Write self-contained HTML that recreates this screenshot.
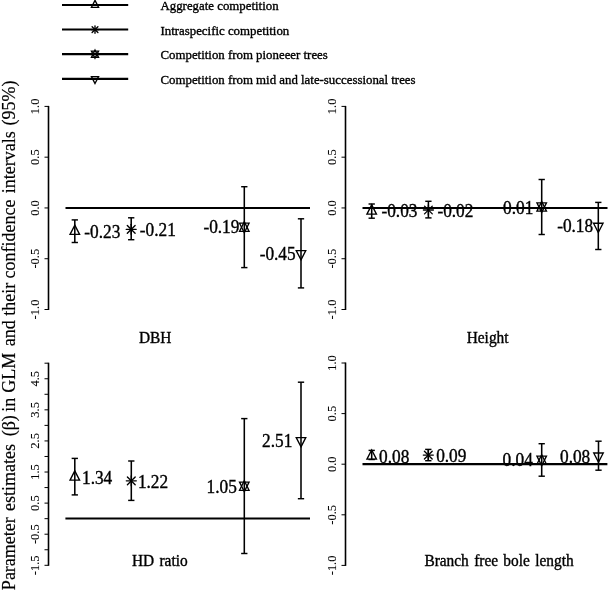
<!DOCTYPE html>
<html><head><meta charset="utf-8"><style>
html,body{margin:0;padding:0;background:#fff;width:609px;height:591px;overflow:hidden}
svg{display:block;will-change:transform}
text{font-family:"Liberation Serif", serif;fill:#000;stroke:#000;stroke-width:0.35px}
</style></head><body>
<svg width="609" height="591" viewBox="0 0 609 591">
<rect width="609" height="591" fill="#fff"/>
<line x1="62.00" y1="5.00" x2="128.20" y2="5.00" stroke="#000" stroke-width="2.1"/>
<polygon points="95.00,0.41 98.55,7.30 91.45,7.30" fill="none" stroke="#000" stroke-width="1.35"/>
<text x="160.50" y="9.70" font-size="12.85" text-anchor="start" >Aggregate competition</text>
<line x1="62.00" y1="29.55" x2="128.20" y2="29.55" stroke="#000" stroke-width="2.1"/>
<line x1="91.27" y1="29.55" x2="98.73" y2="29.55" stroke="#000" stroke-width="1.35" stroke-linecap="round"/>
<line x1="95.00" y1="25.82" x2="95.00" y2="33.28" stroke="#000" stroke-width="1.35" stroke-linecap="round"/>
<line x1="92.10" y1="26.65" x2="97.90" y2="32.45" stroke="#000" stroke-width="1.35" stroke-linecap="round"/>
<line x1="92.10" y1="32.45" x2="97.90" y2="26.65" stroke="#000" stroke-width="1.35" stroke-linecap="round"/>
<text x="160.50" y="34.60" font-size="12.85" text-anchor="start" >Intraspecific competition</text>
<line x1="62.00" y1="54.15" x2="128.20" y2="54.15" stroke="#000" stroke-width="2.1"/>
<polygon points="95.00,50.05 98.55,57.23 91.45,57.23" fill="none" stroke="#000" stroke-width="1.35"/>
<polygon points="95.00,58.25 98.55,51.07 91.45,51.07" fill="none" stroke="#000" stroke-width="1.35"/>
<text x="160.50" y="59.20" font-size="12.85" text-anchor="start" >Competition from pioneeer trees</text>
<line x1="62.00" y1="78.85" x2="128.20" y2="78.85" stroke="#000" stroke-width="2.1"/>
<polygon points="95.00,83.44 98.55,76.55 91.45,76.55" fill="none" stroke="#000" stroke-width="1.35"/>
<text x="160.50" y="83.60" font-size="12.85" text-anchor="start" >Competition from mid and late-successional trees</text>
<line x1="48.50" y1="105.90" x2="48.50" y2="310.00" stroke="#000" stroke-width="1.6"/>
<line x1="44.50" y1="106.40" x2="48.50" y2="106.40" stroke="#000" stroke-width="1.0"/>
<line x1="44.50" y1="157.18" x2="48.50" y2="157.18" stroke="#000" stroke-width="1.0"/>
<line x1="44.50" y1="207.95" x2="48.50" y2="207.95" stroke="#000" stroke-width="1.0"/>
<line x1="44.50" y1="258.73" x2="48.50" y2="258.73" stroke="#000" stroke-width="1.0"/>
<line x1="44.50" y1="309.50" x2="48.50" y2="309.50" stroke="#000" stroke-width="1.0"/>
<text x="0" y="0" font-size="12.5" text-anchor="middle" style="stroke-width:0.1px" transform="translate(39.20,106.40) rotate(-90) scale(1,1.05)">1.0</text>
<text x="0" y="0" font-size="12.5" text-anchor="middle" style="stroke-width:0.1px" transform="translate(39.20,157.18) rotate(-90) scale(1,1.05)">0.5</text>
<text x="0" y="0" font-size="12.5" text-anchor="middle" style="stroke-width:0.1px" transform="translate(39.20,207.95) rotate(-90) scale(1,1.05)">0.0</text>
<text x="0" y="0" font-size="12.5" text-anchor="middle" style="stroke-width:0.1px" transform="translate(39.20,258.73) rotate(-90) scale(1,1.05)">-0.5</text>
<text x="0" y="0" font-size="12.5" text-anchor="middle" style="stroke-width:0.1px" transform="translate(39.20,309.50) rotate(-90) scale(1,1.05)">-1.0</text>
<line x1="345.50" y1="105.90" x2="345.50" y2="310.00" stroke="#000" stroke-width="1.6"/>
<line x1="341.50" y1="106.40" x2="345.50" y2="106.40" stroke="#000" stroke-width="1.0"/>
<line x1="341.50" y1="157.18" x2="345.50" y2="157.18" stroke="#000" stroke-width="1.0"/>
<line x1="341.50" y1="207.95" x2="345.50" y2="207.95" stroke="#000" stroke-width="1.0"/>
<line x1="341.50" y1="258.73" x2="345.50" y2="258.73" stroke="#000" stroke-width="1.0"/>
<line x1="341.50" y1="309.50" x2="345.50" y2="309.50" stroke="#000" stroke-width="1.0"/>
<text x="0" y="0" font-size="12.5" text-anchor="middle" style="stroke-width:0.1px" transform="translate(336.30,106.40) rotate(-90) scale(1,1.05)">1.0</text>
<text x="0" y="0" font-size="12.5" text-anchor="middle" style="stroke-width:0.1px" transform="translate(336.30,157.18) rotate(-90) scale(1,1.05)">0.5</text>
<text x="0" y="0" font-size="12.5" text-anchor="middle" style="stroke-width:0.1px" transform="translate(336.30,207.95) rotate(-90) scale(1,1.05)">0.0</text>
<text x="0" y="0" font-size="12.5" text-anchor="middle" style="stroke-width:0.1px" transform="translate(336.30,258.73) rotate(-90) scale(1,1.05)">-0.5</text>
<text x="0" y="0" font-size="12.5" text-anchor="middle" style="stroke-width:0.1px" transform="translate(336.30,309.50) rotate(-90) scale(1,1.05)">-1.0</text>
<line x1="345.50" y1="362.50" x2="345.50" y2="565.90" stroke="#000" stroke-width="1.6"/>
<line x1="341.50" y1="363.00" x2="345.50" y2="363.00" stroke="#000" stroke-width="1.0"/>
<line x1="341.50" y1="413.60" x2="345.50" y2="413.60" stroke="#000" stroke-width="1.0"/>
<line x1="341.50" y1="464.20" x2="345.50" y2="464.20" stroke="#000" stroke-width="1.0"/>
<line x1="341.50" y1="514.80" x2="345.50" y2="514.80" stroke="#000" stroke-width="1.0"/>
<line x1="341.50" y1="565.40" x2="345.50" y2="565.40" stroke="#000" stroke-width="1.0"/>
<text x="0" y="0" font-size="12.5" text-anchor="middle" style="stroke-width:0.1px" transform="translate(336.30,363.00) rotate(-90) scale(1,1.05)">1.0</text>
<text x="0" y="0" font-size="12.5" text-anchor="middle" style="stroke-width:0.1px" transform="translate(336.30,413.60) rotate(-90) scale(1,1.05)">0.5</text>
<text x="0" y="0" font-size="12.5" text-anchor="middle" style="stroke-width:0.1px" transform="translate(336.30,464.20) rotate(-90) scale(1,1.05)">0.0</text>
<text x="0" y="0" font-size="12.5" text-anchor="middle" style="stroke-width:0.1px" transform="translate(336.30,514.80) rotate(-90) scale(1,1.05)">-0.5</text>
<text x="0" y="0" font-size="12.5" text-anchor="middle" style="stroke-width:0.1px" transform="translate(336.30,565.40) rotate(-90) scale(1,1.05)">-1.0</text>
<line x1="48.50" y1="362.70" x2="48.50" y2="565.80" stroke="#000" stroke-width="1.6"/>
<line x1="44.50" y1="363.20" x2="48.50" y2="363.20" stroke="#000" stroke-width="1.0"/>
<line x1="44.50" y1="378.75" x2="48.50" y2="378.75" stroke="#000" stroke-width="1.0"/>
<line x1="44.50" y1="394.29" x2="48.50" y2="394.29" stroke="#000" stroke-width="1.0"/>
<line x1="44.50" y1="409.84" x2="48.50" y2="409.84" stroke="#000" stroke-width="1.0"/>
<line x1="44.50" y1="425.38" x2="48.50" y2="425.38" stroke="#000" stroke-width="1.0"/>
<line x1="44.50" y1="440.93" x2="48.50" y2="440.93" stroke="#000" stroke-width="1.0"/>
<line x1="44.50" y1="456.48" x2="48.50" y2="456.48" stroke="#000" stroke-width="1.0"/>
<line x1="44.50" y1="472.02" x2="48.50" y2="472.02" stroke="#000" stroke-width="1.0"/>
<line x1="44.50" y1="487.57" x2="48.50" y2="487.57" stroke="#000" stroke-width="1.0"/>
<line x1="44.50" y1="503.12" x2="48.50" y2="503.12" stroke="#000" stroke-width="1.0"/>
<line x1="44.50" y1="518.66" x2="48.50" y2="518.66" stroke="#000" stroke-width="1.0"/>
<line x1="44.50" y1="534.21" x2="48.50" y2="534.21" stroke="#000" stroke-width="1.0"/>
<line x1="44.50" y1="549.75" x2="48.50" y2="549.75" stroke="#000" stroke-width="1.0"/>
<line x1="44.50" y1="565.30" x2="48.50" y2="565.30" stroke="#000" stroke-width="1.0"/>
<text x="0" y="0" font-size="12.5" text-anchor="middle" style="stroke-width:0.1px" transform="translate(39.20,378.75) rotate(-90) scale(1,1.05)">4.5</text>
<text x="0" y="0" font-size="12.5" text-anchor="middle" style="stroke-width:0.1px" transform="translate(39.20,409.84) rotate(-90) scale(1,1.05)">3.5</text>
<text x="0" y="0" font-size="12.5" text-anchor="middle" style="stroke-width:0.1px" transform="translate(39.20,440.93) rotate(-90) scale(1,1.05)">2.5</text>
<text x="0" y="0" font-size="12.5" text-anchor="middle" style="stroke-width:0.1px" transform="translate(39.20,472.02) rotate(-90) scale(1,1.05)">1.5</text>
<text x="0" y="0" font-size="12.5" text-anchor="middle" style="stroke-width:0.1px" transform="translate(39.20,503.12) rotate(-90) scale(1,1.05)">0.5</text>
<text x="0" y="0" font-size="12.5" text-anchor="middle" style="stroke-width:0.1px" transform="translate(39.20,534.21) rotate(-90) scale(1,1.05)">-0.5</text>
<text x="0" y="0" font-size="12.5" text-anchor="middle" style="stroke-width:0.1px" transform="translate(39.20,565.30) rotate(-90) scale(1,1.05)">-1.5</text>
<line x1="65.50" y1="208.00" x2="310.00" y2="208.00" stroke="#000" stroke-width="2.2"/>
<line x1="362.50" y1="208.00" x2="607.50" y2="208.00" stroke="#000" stroke-width="2.2"/>
<line x1="65.40" y1="518.50" x2="310.00" y2="518.50" stroke="#000" stroke-width="2.1"/>
<line x1="362.50" y1="464.10" x2="607.40" y2="464.10" stroke="#000" stroke-width="2.2"/>
<line x1="74.80" y1="219.90" x2="74.80" y2="242.50" stroke="#000" stroke-width="1.55"/>
<line x1="71.65" y1="219.90" x2="77.95" y2="219.90" stroke="#000" stroke-width="1.45"/>
<line x1="71.65" y1="242.50" x2="77.95" y2="242.50" stroke="#000" stroke-width="1.45"/>
<polygon points="74.80,225.14 79.56,234.38 70.04,234.38" fill="none" stroke="#000" stroke-width="1.35"/>
<text x="0" y="0" font-size="17.3" text-anchor="start" transform="translate(84.35,237.80) scale(1,1.03)" >-0.23</text>
<line x1="131.20" y1="217.80" x2="131.20" y2="239.70" stroke="#000" stroke-width="1.55"/>
<line x1="128.05" y1="217.80" x2="134.35" y2="217.80" stroke="#000" stroke-width="1.45"/>
<line x1="128.05" y1="239.70" x2="134.35" y2="239.70" stroke="#000" stroke-width="1.45"/>
<line x1="126.20" y1="229.30" x2="136.20" y2="229.30" stroke="#000" stroke-width="1.35" stroke-linecap="round"/>
<line x1="131.20" y1="224.30" x2="131.20" y2="234.30" stroke="#000" stroke-width="1.35" stroke-linecap="round"/>
<line x1="127.31" y1="225.41" x2="135.09" y2="233.19" stroke="#000" stroke-width="1.35" stroke-linecap="round"/>
<line x1="127.31" y1="233.19" x2="135.09" y2="225.41" stroke="#000" stroke-width="1.35" stroke-linecap="round"/>
<text x="0" y="0" font-size="17.3" text-anchor="start" transform="translate(139.85,235.50) scale(1,1.03)" >-0.21</text>
<line x1="244.30" y1="186.70" x2="244.30" y2="267.60" stroke="#000" stroke-width="1.55"/>
<line x1="241.15" y1="186.70" x2="247.45" y2="186.70" stroke="#000" stroke-width="1.45"/>
<line x1="241.15" y1="267.60" x2="247.45" y2="267.60" stroke="#000" stroke-width="1.45"/>
<polygon points="244.30,221.80 249.06,231.43 239.54,231.43" fill="none" stroke="#000" stroke-width="1.35"/>
<polygon points="244.30,232.80 249.06,223.18 239.54,223.18" fill="none" stroke="#000" stroke-width="1.35"/>
<text x="0" y="0" font-size="17.3" text-anchor="end" transform="translate(239.40,233.10) scale(1,1.03)" >-0.19</text>
<line x1="301.00" y1="218.80" x2="301.00" y2="287.90" stroke="#000" stroke-width="1.55"/>
<line x1="297.85" y1="218.80" x2="304.15" y2="218.80" stroke="#000" stroke-width="1.45"/>
<line x1="297.85" y1="287.90" x2="304.15" y2="287.90" stroke="#000" stroke-width="1.45"/>
<polygon points="301.00,259.86 305.76,250.62 296.24,250.62" fill="none" stroke="#000" stroke-width="1.35"/>
<text x="0" y="0" font-size="17.3" text-anchor="end" transform="translate(295.65,260.20) scale(1,1.03)" >-0.45</text>
<line x1="371.70" y1="204.00" x2="371.70" y2="218.20" stroke="#000" stroke-width="1.55"/>
<line x1="368.55" y1="204.00" x2="374.85" y2="204.00" stroke="#000" stroke-width="1.45"/>
<line x1="368.55" y1="218.20" x2="374.85" y2="218.20" stroke="#000" stroke-width="1.45"/>
<polygon points="371.70,204.84 376.46,214.08 366.94,214.08" fill="none" stroke="#000" stroke-width="1.35"/>
<text x="0" y="0" font-size="17.3" text-anchor="start" transform="translate(381.45,217.40) scale(1,1.03)" >-0.03</text>
<line x1="428.40" y1="201.30" x2="428.40" y2="217.90" stroke="#000" stroke-width="1.55"/>
<line x1="425.25" y1="201.30" x2="431.55" y2="201.30" stroke="#000" stroke-width="1.45"/>
<line x1="425.25" y1="217.90" x2="431.55" y2="217.90" stroke="#000" stroke-width="1.45"/>
<line x1="423.40" y1="210.00" x2="433.40" y2="210.00" stroke="#000" stroke-width="1.35" stroke-linecap="round"/>
<line x1="428.40" y1="205.00" x2="428.40" y2="215.00" stroke="#000" stroke-width="1.35" stroke-linecap="round"/>
<line x1="424.51" y1="206.11" x2="432.29" y2="213.89" stroke="#000" stroke-width="1.35" stroke-linecap="round"/>
<line x1="424.51" y1="213.89" x2="432.29" y2="206.11" stroke="#000" stroke-width="1.35" stroke-linecap="round"/>
<text x="0" y="0" font-size="17.3" text-anchor="start" transform="translate(437.40,216.50) scale(1,1.03)" >-0.02</text>
<line x1="541.70" y1="179.50" x2="541.70" y2="234.50" stroke="#000" stroke-width="1.55"/>
<line x1="538.55" y1="179.50" x2="544.85" y2="179.50" stroke="#000" stroke-width="1.45"/>
<line x1="538.55" y1="234.50" x2="544.85" y2="234.50" stroke="#000" stroke-width="1.45"/>
<polygon points="541.70,201.50 546.46,211.12 536.94,211.12" fill="none" stroke="#000" stroke-width="1.35"/>
<polygon points="541.70,212.50 546.46,202.88 536.94,202.88" fill="none" stroke="#000" stroke-width="1.35"/>
<text x="0" y="0" font-size="17.3" text-anchor="end" transform="translate(533.30,213.60) scale(1,1.03)" >0.01</text>
<line x1="598.30" y1="202.40" x2="598.30" y2="249.50" stroke="#000" stroke-width="1.55"/>
<line x1="595.15" y1="202.40" x2="601.45" y2="202.40" stroke="#000" stroke-width="1.45"/>
<line x1="595.15" y1="249.50" x2="601.45" y2="249.50" stroke="#000" stroke-width="1.45"/>
<polygon points="598.30,232.46 603.06,223.22 593.54,223.22" fill="none" stroke="#000" stroke-width="1.35"/>
<text x="0" y="0" font-size="17.3" text-anchor="end" transform="translate(593.15,232.40) scale(1,1.03)" >-0.18</text>
<line x1="74.80" y1="458.40" x2="74.80" y2="494.90" stroke="#000" stroke-width="1.55"/>
<line x1="71.65" y1="458.40" x2="77.95" y2="458.40" stroke="#000" stroke-width="1.45"/>
<line x1="71.65" y1="494.90" x2="77.95" y2="494.90" stroke="#000" stroke-width="1.45"/>
<polygon points="74.80,470.84 79.56,480.08 70.04,480.08" fill="none" stroke="#000" stroke-width="1.35"/>
<text x="0" y="0" font-size="17.3" text-anchor="start" transform="translate(82.00,483.80) scale(1,1.03)" >1.34</text>
<line x1="131.30" y1="461.00" x2="131.30" y2="500.40" stroke="#000" stroke-width="1.55"/>
<line x1="128.15" y1="461.00" x2="134.45" y2="461.00" stroke="#000" stroke-width="1.45"/>
<line x1="128.15" y1="500.40" x2="134.45" y2="500.40" stroke="#000" stroke-width="1.45"/>
<line x1="126.30" y1="480.80" x2="136.30" y2="480.80" stroke="#000" stroke-width="1.35" stroke-linecap="round"/>
<line x1="131.30" y1="475.80" x2="131.30" y2="485.80" stroke="#000" stroke-width="1.35" stroke-linecap="round"/>
<line x1="127.41" y1="476.91" x2="135.19" y2="484.69" stroke="#000" stroke-width="1.35" stroke-linecap="round"/>
<line x1="127.41" y1="484.69" x2="135.19" y2="476.91" stroke="#000" stroke-width="1.35" stroke-linecap="round"/>
<text x="0" y="0" font-size="17.3" text-anchor="start" transform="translate(137.90,487.80) scale(1,1.03)" >1.22</text>
<line x1="244.30" y1="418.60" x2="244.30" y2="553.50" stroke="#000" stroke-width="1.55"/>
<line x1="241.15" y1="418.60" x2="247.45" y2="418.60" stroke="#000" stroke-width="1.45"/>
<line x1="241.15" y1="553.50" x2="247.45" y2="553.50" stroke="#000" stroke-width="1.45"/>
<polygon points="244.30,480.70 249.06,490.32 239.54,490.32" fill="none" stroke="#000" stroke-width="1.35"/>
<polygon points="244.30,491.70 249.06,482.07 239.54,482.07" fill="none" stroke="#000" stroke-width="1.35"/>
<text x="0" y="0" font-size="17.3" text-anchor="end" transform="translate(236.80,492.60) scale(1,1.03)" >1.05</text>
<line x1="301.00" y1="382.20" x2="301.00" y2="498.70" stroke="#000" stroke-width="1.55"/>
<line x1="297.85" y1="382.20" x2="304.15" y2="382.20" stroke="#000" stroke-width="1.45"/>
<line x1="297.85" y1="498.70" x2="304.15" y2="498.70" stroke="#000" stroke-width="1.45"/>
<polygon points="301.00,446.86 305.76,437.62 296.24,437.62" fill="none" stroke="#000" stroke-width="1.35"/>
<text x="0" y="0" font-size="17.3" text-anchor="end" transform="translate(292.30,446.60) scale(1,1.03)" >2.51</text>
<line x1="371.70" y1="450.40" x2="371.70" y2="459.50" stroke="#000" stroke-width="1.55"/>
<line x1="368.55" y1="450.40" x2="374.85" y2="450.40" stroke="#000" stroke-width="1.45"/>
<line x1="368.55" y1="459.50" x2="374.85" y2="459.50" stroke="#000" stroke-width="1.45"/>
<polygon points="371.70,449.94 376.46,459.18 366.94,459.18" fill="none" stroke="#000" stroke-width="1.35"/>
<text x="0" y="0" font-size="17.3" text-anchor="start" transform="translate(379.10,462.80) scale(1,1.03)" >0.08</text>
<line x1="428.30" y1="449.40" x2="428.30" y2="460.70" stroke="#000" stroke-width="1.55"/>
<line x1="425.15" y1="449.40" x2="431.45" y2="449.40" stroke="#000" stroke-width="1.45"/>
<line x1="425.15" y1="460.70" x2="431.45" y2="460.70" stroke="#000" stroke-width="1.45"/>
<line x1="423.30" y1="455.10" x2="433.30" y2="455.10" stroke="#000" stroke-width="1.35" stroke-linecap="round"/>
<line x1="428.30" y1="450.10" x2="428.30" y2="460.10" stroke="#000" stroke-width="1.35" stroke-linecap="round"/>
<line x1="424.41" y1="451.21" x2="432.19" y2="458.99" stroke="#000" stroke-width="1.35" stroke-linecap="round"/>
<line x1="424.41" y1="458.99" x2="432.19" y2="451.21" stroke="#000" stroke-width="1.35" stroke-linecap="round"/>
<text x="0" y="0" font-size="17.3" text-anchor="start" transform="translate(436.15,461.50) scale(1,1.03)" >0.09</text>
<line x1="541.70" y1="443.70" x2="541.70" y2="476.20" stroke="#000" stroke-width="1.55"/>
<line x1="538.55" y1="443.70" x2="544.85" y2="443.70" stroke="#000" stroke-width="1.45"/>
<line x1="538.55" y1="476.20" x2="544.85" y2="476.20" stroke="#000" stroke-width="1.45"/>
<polygon points="541.70,454.70 546.46,464.32 536.94,464.32" fill="none" stroke="#000" stroke-width="1.35"/>
<polygon points="541.70,465.70 546.46,456.07 536.94,456.07" fill="none" stroke="#000" stroke-width="1.35"/>
<text x="0" y="0" font-size="17.3" text-anchor="end" transform="translate(532.80,466.30) scale(1,1.03)" >0.04</text>
<line x1="598.50" y1="441.20" x2="598.50" y2="470.20" stroke="#000" stroke-width="1.55"/>
<line x1="595.35" y1="441.20" x2="601.65" y2="441.20" stroke="#000" stroke-width="1.45"/>
<line x1="595.35" y1="470.20" x2="601.65" y2="470.20" stroke="#000" stroke-width="1.45"/>
<polygon points="598.50,462.26 603.26,453.02 593.74,453.02" fill="none" stroke="#000" stroke-width="1.35"/>
<text x="0" y="0" font-size="17.3" text-anchor="end" transform="translate(590.25,463.40) scale(1,1.03)" >0.08</text>
<text x="0" y="0" font-size="15.4" text-anchor="middle" transform="translate(155.20,342.80) scale(1,1.05)" word-spacing="1.5">DBH</text>
<text x="0" y="0" font-size="15.4" text-anchor="middle" transform="translate(487.60,342.80) scale(1,1.05)" word-spacing="1.5">Height</text>
<text x="0" y="0" font-size="15.4" text-anchor="middle" transform="translate(159.80,565.80) scale(1,1.05)" word-spacing="1.5">HD ratio</text>
<text x="0" y="0" font-size="15.4" text-anchor="middle" transform="translate(499.00,565.90) scale(1,1.05)" word-spacing="1.5">Branch free bole length</text>
<text x="0" y="0" font-size="18" text-anchor="middle" style="stroke-width:0.2px" transform="translate(14.6,103.00) rotate(-90)">(95%)</text>
<text x="0" y="0" font-size="18" text-anchor="middle" style="stroke-width:0.2px" transform="translate(14.6,162.30) rotate(-90)">intervals</text>
<text x="0" y="0" font-size="18" text-anchor="middle" style="stroke-width:0.2px" transform="translate(14.6,239.00) rotate(-90)">confidence</text>
<text x="0" y="0" font-size="18" text-anchor="middle" style="stroke-width:0.2px" transform="translate(14.6,299.30) rotate(-90)">their</text>
<text x="0" y="0" font-size="18" text-anchor="middle" style="stroke-width:0.2px" transform="translate(14.6,333.30) rotate(-90)">and</text>
<text x="0" y="0" font-size="18" text-anchor="middle" style="stroke-width:0.2px" transform="translate(14.6,372.85) rotate(-90)">GLM</text>
<text x="0" y="0" font-size="18" text-anchor="middle" style="stroke-width:0.2px" transform="translate(14.6,404.80) rotate(-90)">in</text>
<text x="0" y="0" font-size="18" text-anchor="middle" style="stroke-width:0.2px" transform="translate(14.6,425.75) rotate(-90)">(β)</text>
<text x="0" y="0" font-size="18" text-anchor="middle" style="stroke-width:0.2px" transform="translate(14.6,477.55) rotate(-90)">estimates</text>
<text x="0" y="0" font-size="18" text-anchor="middle" style="stroke-width:0.2px" transform="translate(14.6,553.65) rotate(-90)">Parameter</text>
</svg>
</body></html>
